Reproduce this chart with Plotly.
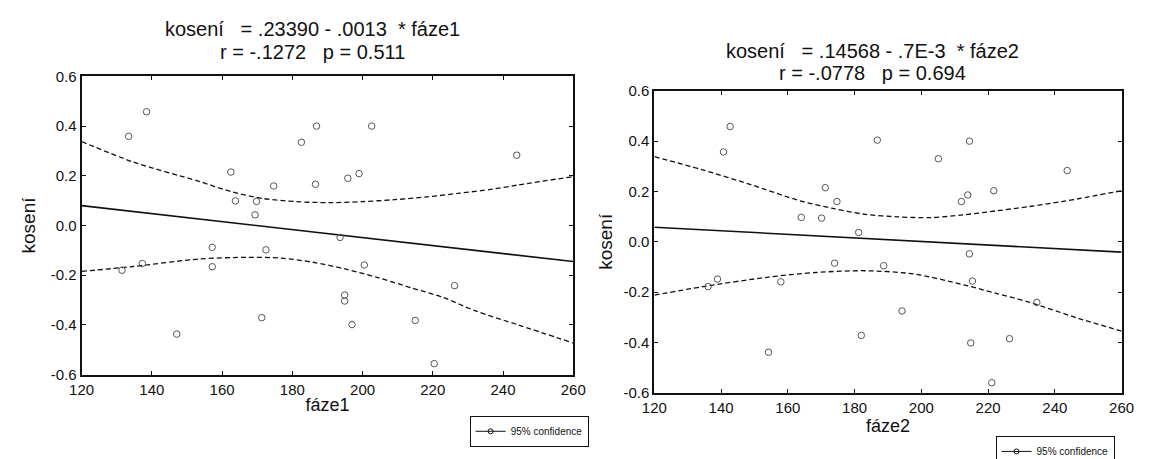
import plotly.graph_objects as go

# ---------------- data ----------------
# panel 1: faze1 vs koseni
faze1 = [133.4, 138.5, 162.5, 163.8, 169.8, 169.4, 174.7, 182.6, 186.9, 186.6,
         195.8, 199.0, 202.6, 243.9, 193.6, 157.2, 172.5, 131.5, 137.3, 157.2,
         200.5, 226.2, 194.9, 194.9, 147.1, 171.3, 197.0, 215.0, 220.4]
koseni1 = [0.359, 0.458, 0.215, 0.099, 0.097, 0.043, 0.159, 0.335, 0.400, 0.166,
           0.190, 0.209, 0.400, 0.283, -0.048, -0.088, -0.098, -0.180, -0.153, -0.166,
           -0.159, -0.242, -0.280, -0.304, -0.437, -0.371, -0.399, -0.382, -0.556]
fit1_x = [120, 260]
fit1_y = [0.080, -0.145]
up1_x = [120, 134.8, 153.4, 162.7, 171.9, 181.2, 190.5, 199.8, 209.1, 218.3, 227.6, 236.9, 244.3, 260]
up1_y = [0.338, 0.255, 0.178, 0.136, 0.108, 0.096, 0.092, 0.096, 0.104, 0.115, 0.130, 0.146, 0.163, 0.197]
lo1_x = [120, 134.8, 153.4, 167.3, 176.6, 185.9, 195.1, 204.4, 213.7, 223.0, 232.2, 244.3, 260]
lo1_y = [-0.185, -0.165, -0.135, -0.128, -0.131, -0.148, -0.175, -0.210, -0.250, -0.290, -0.344, -0.400, -0.473]

# panel 2: faze2 vs koseni
faze2 = [142.7, 140.7, 186.8, 214.4, 205.1, 243.7, 171.2, 174.7, 212.0, 213.9,
         221.7, 164.0, 170.1, 181.2, 214.4, 174.0, 188.7, 136.1, 138.9, 157.9,
         215.3, 234.6, 194.2, 182.0, 214.8, 226.4, 154.2, 221.1]
koseni2 = [0.458, 0.357, 0.404, 0.400, 0.330, 0.283, 0.215, 0.160, 0.160, 0.186,
           0.203, 0.097, 0.094, 0.037, -0.048, -0.085, -0.095, -0.178, -0.148, -0.159,
           -0.156, -0.241, -0.275, -0.372, -0.402, -0.385, -0.439, -0.560]
fit2_x = [120, 260]
fit2_y = [0.058, -0.041]
up2_x = [120, 134.2, 148.9, 163.6, 173.4, 183.2, 193.0, 202.8, 212.6, 222.5, 232.3, 242.1, 247.0, 260]
up2_y = [0.338, 0.287, 0.227, 0.163, 0.133, 0.109, 0.099, 0.096, 0.107, 0.123, 0.140, 0.160, 0.171, 0.203]
lo2_x = [120, 134.2, 153.8, 168.5, 183.2, 197.9, 212.6, 222.5, 232.3, 247.0, 260]
lo2_y = [-0.212, -0.179, -0.141, -0.122, -0.115, -0.128, -0.171, -0.205, -0.240, -0.304, -0.355]

x_ticks = [120, 140, 160, 180, 200, 220, 240, 260]
y_ticks = [-0.6, -0.4, -0.2, 0.0, 0.2, 0.4, 0.6]
y_tick_text = ["-0.6", "-0.4", "-0.2", "0.0", "0.2", "0.4", "0.6"]

titles = [("kosení   = .23390 - .0013  * fáze1", "r = -.1272   p = 0.511"),
          ("kosení   = .14568 - .7E-3  * fáze2", "r = -.0778   p = 0.694")]
x_titles = ["fáze1", "fáze2"]
y_title = "kosení"
legend_label = "95% confidence"

# ---------------- figure ----------------
FONT = "Liberation Sans, Arial, sans-serif"
INK = "#111111"
fig = go.Figure()

panels = [
    dict(x=faze1, y=koseni1, fx=fit1_x, fy=fit1_y, ux=up1_x, uy=up1_y, lx=lo1_x, ly=lo1_y,
         xa="x", ya="y", leg="legend"),
    dict(x=faze2, y=koseni2, fx=fit2_x, fy=fit2_y, ux=up2_x, uy=up2_y, lx=lo2_x, ly=lo2_y,
         xa="x2", ya="y2", leg="legend2"),
]

for p in panels:
    fig.add_trace(go.Scatter(x=p["fx"], y=p["fy"], mode="lines", xaxis=p["xa"], yaxis=p["ya"],
                             line=dict(color=INK, width=1.6), showlegend=False, hoverinfo="skip"))
    for bx, by in ((p["ux"], p["uy"]), (p["lx"], p["ly"])):
        fig.add_trace(go.Scatter(x=bx, y=by, mode="lines", xaxis=p["xa"], yaxis=p["ya"],
                                 line=dict(color=INK, width=1.3, dash="5px,3px", shape="spline",
                                           smoothing=0.8),
                                 showlegend=False, hoverinfo="skip"))
    fig.add_trace(go.Scatter(x=p["x"], y=p["y"], mode="markers", xaxis=p["xa"], yaxis=p["ya"],
                             marker=dict(symbol="circle-open", size=6.5, color="#555555",
                                         line=dict(width=1)),
                             showlegend=False))
    # legend entry
    fig.add_trace(go.Scatter(x=[None], y=[None], mode="lines+markers", xaxis=p["xa"], yaxis=p["ya"],
                             name=legend_label, legend=p["leg"],
                             line=dict(color=INK, width=1),
                             marker=dict(symbol="circle-open", size=5, color=INK),
                             showlegend=True))

W, H = 1153, 459
def px(x): return x / W
def py(y): return 1 - y / H

def axis(**kw):
    d = dict(showline=True, linecolor=INK, linewidth=2, mirror="ticks",
             ticks="inside", ticklen=4, tickwidth=1, tickcolor=INK, showgrid=False,
             zeroline=False, tickfont=dict(family=FONT, size=15, color=INK))
    d.update(kw)
    return d

fig.update_layout(
    width=W, height=H, margin=dict(l=0, r=0, t=0, b=0),
    paper_bgcolor="white", plot_bgcolor="white",
    font=dict(family=FONT, color=INK),
    xaxis=axis(domain=[px(62), px(565)], range=[120, 260], tickvals=x_ticks,
               anchor="y", title=dict(text=x_titles[0], font=dict(size=18), standoff=2)),
    yaxis=axis(domain=[py(373), py(62)], range=[-0.6, 0.6], tickvals=y_ticks,
               ticktext=y_tick_text, anchor="x",
               title=dict(text=y_title, font=dict(size=19), standoff=10)),
    xaxis2=axis(domain=[px(648), px(1126)], range=[120, 260], tickvals=x_ticks,
                anchor="y2", title=dict(text=x_titles[1], font=dict(size=18), standoff=2)),
    yaxis2=axis(domain=[py(392), py(77)], range=[-0.6, 0.6], tickvals=y_ticks,
                ticktext=y_tick_text, anchor="x2",
                title=dict(text=y_title, font=dict(size=19), standoff=6)),
    legend=dict(x=px(459), y=py(416), xanchor="left", yanchor="top", bgcolor="white",
                bordercolor=INK, borderwidth=1, font=dict(size=10, family=FONT),
                itemwidth=30, tracegroupgap=0),
    legend2=dict(x=px(997), y=py(437), xanchor="left", yanchor="top", bgcolor="white",
                 bordercolor=INK, borderwidth=1, font=dict(size=10, family=FONT),
                 itemwidth=30, tracegroupgap=0),
)

title_pos = [(298, 13, 36), (871, 35, 58)]
for (l1, l2), (cx, y1, y2) in zip(titles, title_pos):
    for txt, yy in ((l1, y1), (l2, y2)):
        fig.add_annotation(text=txt, x=px(cx), y=py(yy), xref="paper", yref="paper",
                           xanchor="center", yanchor="middle", align="center",
                           showarrow=False, font=dict(size=20, family=FONT, color=INK))

fig.write_html("out.html")
